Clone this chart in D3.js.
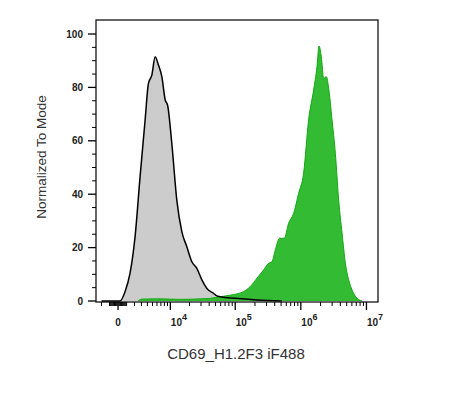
<!DOCTYPE html>
<html>
<head>
<meta charset="utf-8">
<script src="https://cdn.jsdelivr.net/npm/d3@7"></script>
<style>
  body { margin: 0; background: #fff; }
  text { font-family: "Liberation Sans", Arial, sans-serif; }
</style>
</head>
<body>
<script>
    // control (unstained) histogram: fluorescence value, % of mode
    var controlX = [-2000, 230, 813, 1422, 2073, 2794, 3600, 4196, 4859, 5576, 6362, 7265, 8255, 9020,
                    10555, 12667, 15180, 18164, 21700, 25912, 30937, 36920, 46575, 52500, 58980,
                    99925, 214000, 516000];
    var controlY = [0, 0, 3.5, 10.4, 24, 46.6, 67.8, 81.5, 84.6, 91.5, 88.4, 84, 75.3, 73.4,
                    59, 37.8, 26, 20.3, 14.7, 12.2, 7.9, 4.7, 2.9, 1.9, 1.6,
                    1.0, 0.4, 0];

    // CD69 stained histogram
    var stainedX = [2500, 3057, 6801, 14290, 29130, 41570, 58980, 83890, 133800, 169500, 214000,
                    270300, 322400, 363000, 407800, 474900, 559700, 650700, 775700, 924000,
                    1101700, 1313000, 1566000, 1764000, 1894000, 2052000, 2226000, 2448000,
                    2655000, 2992000, 3359000, 3771000, 4252000, 4775000, 5362000, 6042000,
                    7201000, 8585000];
    var stainedY = [0, 0.7, 0.8, 0.6, 0.8, 1.0, 1.6, 2.2, 3.5, 5.4, 8.5,
                    11.6, 14.1, 14.7, 19.1, 23.5, 23.5, 29.1, 32.8, 40.3,
                    47.8, 67.8, 79, 87.8, 95.5, 91.5, 83.4, 84,
                    79.7, 67.8, 55.3, 37.8, 25.4, 14.1, 7.9, 4.1,
                    1, 0];

    var yTicks = [0, 20, 40, 60, 80, 100];
    var xMajor = [0, 1e4, 1e5, 1e6, 1e7];
    var xLabels = ["0", "4", "5", "6", "7"];

    function init() {
        var W = 451, H = 400;
        var margin = {left: 96, top: 20, right: 73, bottom: 98};
        var w = W - margin.left - margin.right;
        var h = H - margin.top - margin.bottom;

        // biexponential-ish axis: linear scale over asinh(v / c)
        var c = 3273;
        var t = function(v) { return Math.asinh(v / c); };
        var lin = d3.scaleLinear().domain([t(-2790), t(1.5e7)]).range([0, w]);
        var x = function(v) { return lin(t(v)); };

        var y = d3.scaleLinear().domain([0, 100]).range([281, 14]);

        var svg = d3.select("body").append("svg")
            .attr("width", W)
            .attr("height", H);

        var g = svg.append("g")
            .attr("transform", "translate(" + margin.left + "," + margin.top + ")");

        var area = d3.area()
            .x(function(d) { return x(d[0]); })
            .y0(y(0))
            .y1(function(d) { return y(d[1]); })
            .curve(d3.curveMonotoneX);
        var line = d3.line()
            .x(function(d) { return x(d[0]); })
            .y(function(d) { return y(d[1]); })
            .curve(d3.curveMonotoneX);

        var control = d3.zip(controlX, controlY);
        var stained = d3.zip(stainedX, stainedY);

        g.append("path").datum(control)
            .attr("d", area)
            .attr("fill", "#cccccc");

        g.append("path").datum(stained)
            .attr("d", area)
            .attr("fill", "#33bb33");
        g.append("path").datum(stained)
            .attr("d", line)
            .attr("fill", "none")
            .attr("stroke", "#11aa11")
            .attr("stroke-width", 1);

        g.append("path").datum(control)
            .attr("d", line)
            .attr("fill", "none")
            .attr("stroke", "#000")
            .attr("stroke-width", 1.5);

        // frame
        g.append("rect")
            .attr("width", w)
            .attr("height", h)
            .attr("fill", "none")
            .attr("stroke", "#000")
            .attr("stroke-width", 1.2);

        // y axis ticks
        var yMinor = d3.range(0, 101, 5).filter(function(v) { return v % 20 != 0; });
        g.selectAll(".ymin").data(yMinor).enter().append("line")
            .attr("x1", -4).attr("x2", 0)
            .attr("y1", function(d) { return y(d); })
            .attr("y2", function(d) { return y(d); })
            .attr("stroke", "#000");
        g.selectAll(".ymaj").data(yTicks).enter().append("line")
            .attr("x1", -8).attr("x2", 0)
            .attr("y1", function(d) { return y(d); })
            .attr("y2", function(d) { return y(d); })
            .attr("stroke", "#000").attr("stroke-width", 1.3);
        g.selectAll(".ylab").data(yTicks).enter().append("text")
            .attr("x", -13)
            .attr("y", function(d) { return y(d) + 3.5; })
            .attr("text-anchor", "end")
            .style("font-family", "'Liberation Sans Narrow', 'Liberation Sans', Arial")
            .style("font-size", "10px")
            .style("font-weight", "bold")
            .attr("fill", "#222")
            .text(function(d) { return d; });

        // x axis ticks
        var xMinor = [];
        [2, 3, 4, 5, 6].forEach(function(n) {
            d3.range(1, 10).forEach(function(k) {
                var v = k * Math.pow(10, n);
                if (xMajor.indexOf(v) < 0) xMinor.push(v);
                if (-v > -2790) xMinor.push(-v);
            });
        });
        g.selectAll(".xmin").data(xMinor).enter().append("line")
            .attr("x1", function(d) { return x(d); })
            .attr("x2", function(d) { return x(d); })
            .attr("y1", h).attr("y2", h + 4)
            .attr("stroke", "#000");
        g.selectAll(".xmaj").data(xMajor).enter().append("line")
            .attr("x1", function(d) { return x(d); })
            .attr("x2", function(d) { return x(d); })
            .attr("y1", h).attr("y2", h + 8)
            .attr("stroke", "#000").attr("stroke-width", 1.3);

        var xl = g.selectAll(".xlab").data(xMajor).enter().append("text")
            .attr("x", function(d, i) { return i == 0 ? x(d) : x(d) + 0.5; })
            .attr("y", h + 24)
            .attr("text-anchor", function(d, i) { return i == 0 ? "middle" : "start"; })
            .style("font-family", "'Liberation Sans Narrow', 'Liberation Sans', Arial")
            .style("font-size", "10px")
            .style("font-weight", "bold")
            .attr("fill", "#222");
        xl.each(function(d, i) {
            var s = d3.select(this);
            if (i == 0) { s.text(xLabels[i]); return; }
            s.append("tspan").text("10");
            s.append("tspan").attr("dy", -6).style("font-size", "9px").text(xLabels[i]);
        });

        // titles
        svg.append("text")
            .attr("x", 236)
            .attr("y", 358.5)
            .attr("text-anchor", "middle")
            .style("font-size", "15px")
            .attr("fill", "#333")
            .text("CD69_H1.2F3 iF488");

        svg.append("text")
            .attr("transform", "translate(46,157) rotate(-90)")
            .attr("text-anchor", "middle")
            .style("font-size", "13.5px")
            .attr("fill", "#333")
            .text("Normalized To Mode");
    }

    window.onload = init;
</script>
</body>
</html>
